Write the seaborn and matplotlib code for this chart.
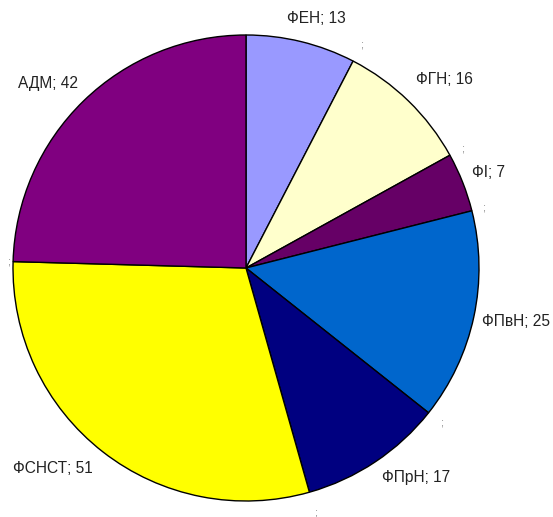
"""
Pie chart: staff count by faculty / unit.
"""
import numpy as np
import matplotlib
matplotlib.use("Agg")
import matplotlib.pyplot as plt
import seaborn as sns

sns.set_style("white")
plt.rcParams["font.family"] = ["Liberation Sans", "DejaVu Sans"]

# data (clockwise from 12 o'clock)
labels = ["ФЕН", "ФГН", "ФІ", "ФПвН", "ФПрН", "ФСНСТ", "АДМ"]
values = [13, 16, 7, 25, 17, 51, 42]
colors = ["#9999FF", "#FFFFCC", "#660066", "#0066CC", "#000080", "#FFFF00", "#800080"]

# label anchor positions (in units of pie radius), as Excel placed them
label_x = [0.30, 0.85, 1.04, 1.16, 0.73, -0.83, -0.85]
label_y = [1.07, 0.81, 0.41, -0.23, -0.90, -0.86, 0.79]

fig = plt.figure(figsize=(5.53, 5.17), dpi=100)
# pie centre at (246, 268) px, radius 233 px
ax = fig.add_axes([13 / 553, 16 / 517, 466 / 553, 466 / 517])

ax.pie(values, colors=colors, startangle=90, counterclock=False,
       wedgeprops=dict(edgecolor="black", linewidth=1.0))
ax.set_xlim(-1, 1)
ax.set_ylim(-1, 1)
ax.set_aspect("equal")
ax.axis("off")

for name, v, x, y in zip(labels, values, label_x, label_y):
    ax.text(x, y, f"{name}; {v}", ha="center", va="center", fontsize=11.2,
            color="#222222")

# faint leftover separators at slice boundaries
total = sum(values)
cum = np.cumsum(values)[:-1]
radii = [1.08, 1.06, 1.05, 1.07, 1.09, 1.02]
for c, r in zip(cum, radii):
    ang = np.deg2rad(90 - 360 * c / total)
    ax.text(r * np.cos(ang), r * np.sin(ang), ";", ha="center",
            va="center", fontsize=8, color="#888888")

plt.savefig("out.png", dpi=100)
